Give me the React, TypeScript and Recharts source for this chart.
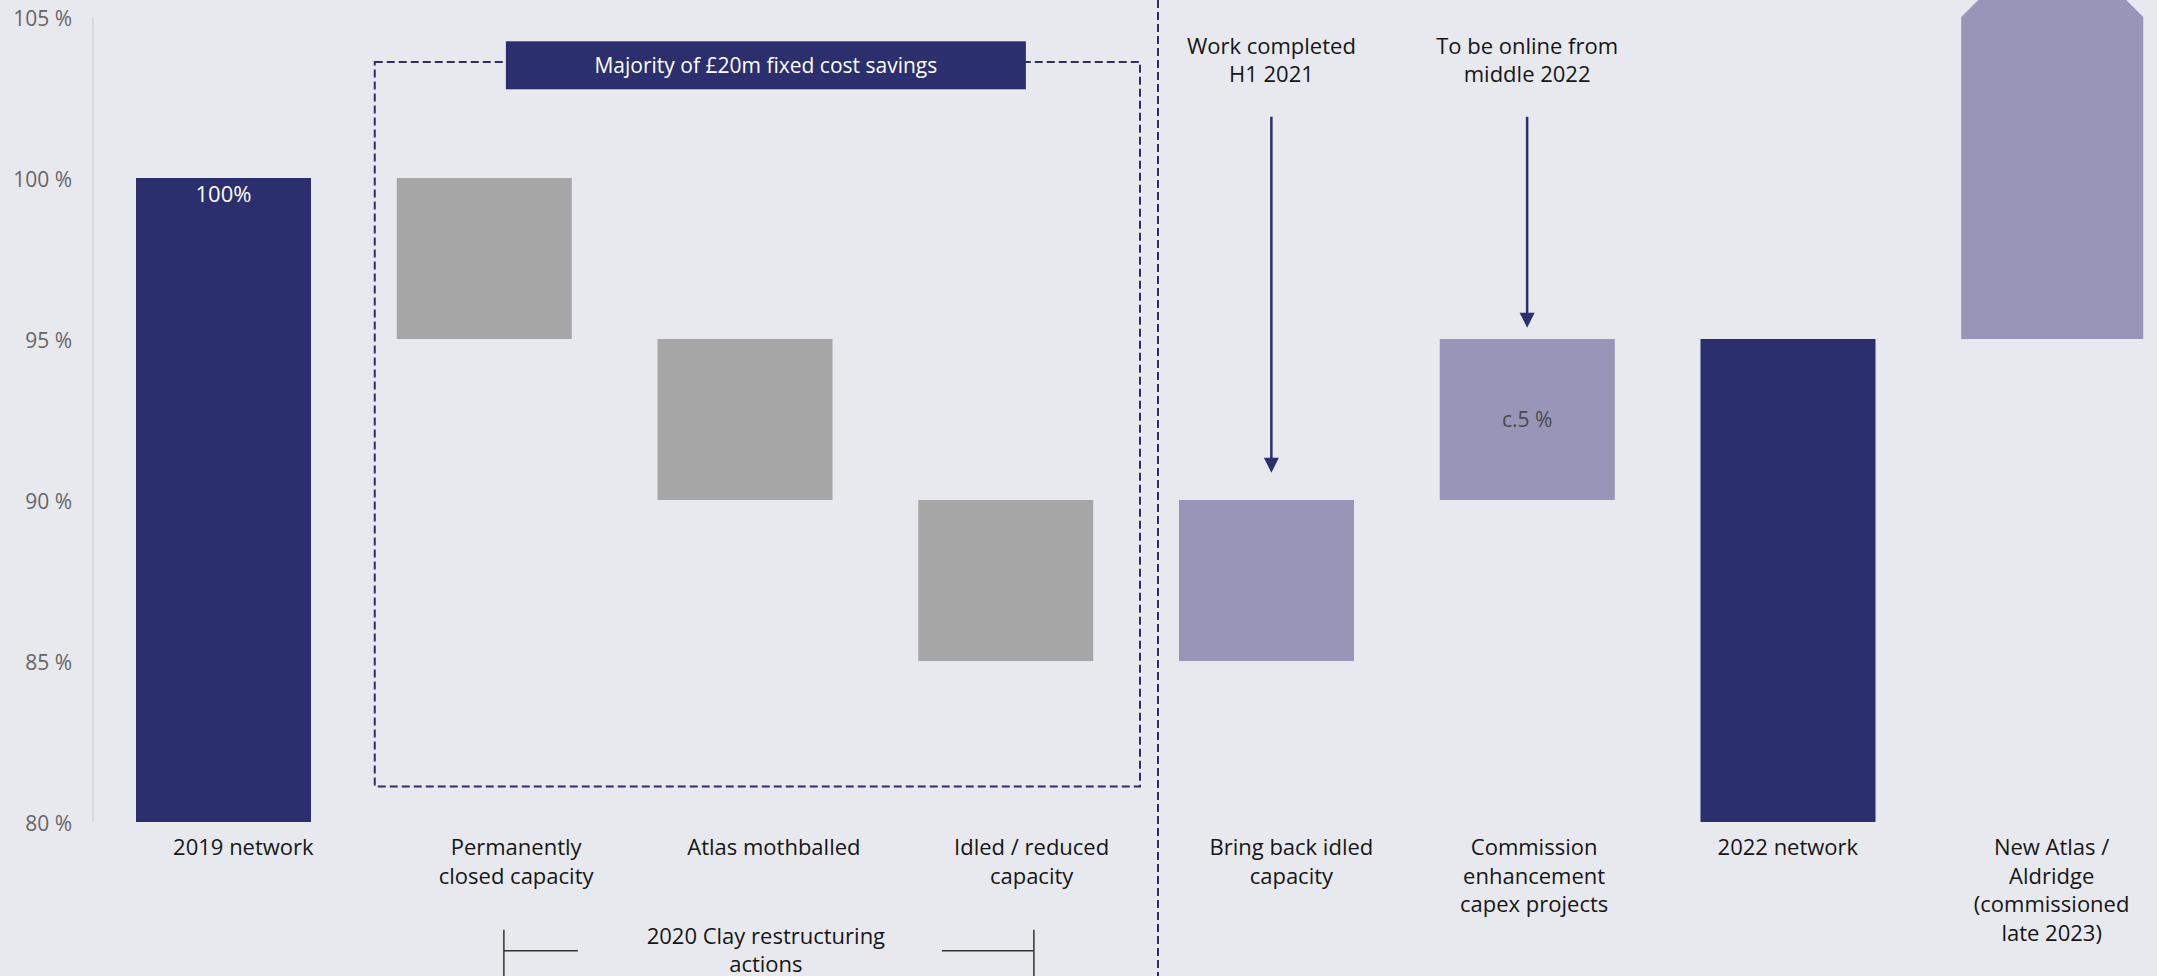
import React from 'react'
import {
  BarChart,
  Bar,
  XAxis,
  YAxis,
  Cell,
  LabelList,
  ReferenceArea,
  ReferenceLine,
  ReferenceDot,
} from 'recharts'

const categories = [
  '2019 network',
  'Permanently closed capacity',
  'Atlas mothballed',
  'Idled / reduced capacity',
  'Bring back idled capacity',
  'Commission enhancement capex projects',
  '2022 network',
  'New Atlas / Aldridge (commissioned late 2023)',
]

// how the slide breaks each category name
const tickLines = [
  ['2019 network'],
  ['Permanently', 'closed capacity'],
  ['Atlas mothballed'],
  ['Idled / reduced', 'capacity'],
  ['Bring back idled', 'capacity'],
  ['Commission', 'enhancement', 'capex projects'],
  ['2022 network'],
  ['New Atlas /', 'Aldridge', '(commissioned', 'late 2023)'],
]

const barLow = [80, 95, 90, 85, 85, 90, 80, 95]
const barHigh = [100, 100, 95, 90, 90, 95, 95, 105]
const barKind = ['total', 'cut', 'cut', 'cut', 'add', 'add', 'total', 'future']
const barLabels = ['100%', '', '', '', '', 'c.5 %', '', '']

const yTicks = [80, 85, 90, 95, 100, 105]

const boxFrom = 103.6
const boxTo = 81.1
const boxTitle = 'Majority of £20m fixed cost savings'
const bracketText = ['2020 Clay restructuring', 'actions']

const arrowAt = [categories[4], categories[5]]
const arrowFrom = [101.9, 101.9]
const arrowTo = [90.85, 95.35]
const arrowNotes = [
  ['Work completed', 'H1 2021'],
  ['To be online from', 'middle 2022'],
]

const W = 2157
const H = 976
const FONT = "'Open Sans', 'Noto Sans', sans-serif"
const NAVY = '#2b2f6e'
const colors: Record<string, string> = {
  total: NAVY,
  cut: '#a6a6a6',
  add: '#9995b8',
  future: '#9995b8',
}
// small horizontal nudges, as things were placed on the slide
const LABEL_NUDGE = [20, 32, 29, 26, 25, 7, 0, 3]
const ARROW_NUDGE = [5, 0]

const data = categories.map((name, i) => ({
  name,
  range: [barLow[i], barHigh[i]],
  label: barLabels[i],
  kind: barKind[i],
}))

const CategoryTick = ({ x, y, payload }: any) => {
  const idx = categories.indexOf(payload.value)
  const lines = tickLines[idx] ?? []
  const cx = x + (LABEL_NUDGE[idx] ?? 0)
  return (
    <text x={cx} y={y} textAnchor="middle" fill="#161616" fontSize={22} fontFamily={FONT}>
      {lines.map((l, i) => (
        <tspan key={i} x={cx} dy={i === 0 ? 25 : 28.5}>
          {l}
        </tspan>
      ))}
    </text>
  )
}

const PercentTick = ({ x, y, payload }: any) => (
  <text x={x} y={y + 9} textAnchor="end" fill="#666666" fontSize={21} fontFamily={FONT}>
    {`${payload.value} %`}
  </text>
)

const WaterfallShape = (props: any) => {
  const { x, y, width, height, fill, payload } = props
  if (payload.kind === 'future') {
    const w = width + 7
    const tip = w / 2
    const pts = [
      [x, y + height],
      [x, y],
      [x + w / 2, y - tip],
      [x + w, y],
      [x + w, y + height],
    ]
    return <polygon points={pts.map((p) => p.join(',')).join(' ')} fill={fill} />
  }
  return <rect x={x} y={y} width={width} height={height} fill={fill} />
}

const BarText = (props: any) => {
  const { x, y, width, height, value, index } = props
  if (!value) return null
  const isTotal = barKind[index] === 'total'
  return (
    <text
      x={x + width / 2}
      y={isTotal ? y + 23.5 : y + height / 2 + 7}
      textAnchor="middle"
      fill={isTotal ? '#ffffff' : '#4a4a4a'}
      fontSize={isTotal ? 22 : 21}
      fontFamily={FONT}
    >
      {value}
    </text>
  )
}

const DashedBox = (p: any) => (
  <rect
    x={p.x + 21}
    y={p.y}
    width={p.width - 17}
    height={p.height}
    fill="none"
    stroke={NAVY}
    strokeWidth={2}
    strokeDasharray="8 4"
  />
)

const TitleBox = ({ cx, cy }: any) => {
  const c = cx + 21
  return (
    <g>
      <rect x={c - 260} y={cy - 24} width={520} height={48} fill={NAVY} />
      <text x={c} y={cy + 7.5} textAnchor="middle" fill="#ffffff" fontSize={21} fontFamily={FONT}>
        {boxTitle}
      </text>
    </g>
  )
}

const Bracket = ({ cx, cy }: any) => {
  const c = cx + 21
  return (
    <g stroke="#333" strokeWidth={1.5}>
      <line x1={c - 262} y1={cy - 21} x2={c - 262} y2={cy + 30} />
      <line x1={c - 262} y1={cy} x2={c - 188} y2={cy} />
      <line x1={c + 176} y1={cy} x2={c + 268} y2={cy} />
      <line x1={c + 268} y1={cy - 21} x2={c + 268} y2={cy + 30} />
      <text x={c} y={cy - 7} textAnchor="middle" fill="#161616" stroke="none" fontSize={22} fontFamily={FONT}>
        <tspan x={c}>{bracketText[0]}</tspan>
        <tspan x={c} dy={28}>
          {bracketText[1]}
        </tspan>
      </text>
    </g>
  )
}

const Separator = (p: any) => (
  <line
    x1={p.x1 + 22}
    x2={p.x1 + 22}
    y1={0}
    y2={H}
    stroke={NAVY}
    strokeWidth={2}
    strokeDasharray="8 4"
  />
)

const makeArrow = (note: string[], nudge: number) => (p: any) => {
  const { y1, y2 } = p
  const x = p.x1 + nudge
  return (
    <g>
      <text x={x} y={y1 - 62.5} textAnchor="middle" fill="#161616" fontSize={22} fontFamily={FONT}>
        <tspan x={x}>{note[0]}</tspan>
        <tspan x={x} dy={27.5}>
          {note[1]}
        </tspan>
      </text>
      <line x1={x} y1={y1} x2={x} y2={y2 - 14} stroke={NAVY} strokeWidth={2.5} />
      <polygon points={`${x - 7.5},${y2 - 15} ${x + 7.5},${y2 - 15} ${x},${y2}`} fill={NAVY} />
    </g>
  )
}

export default function App() {
  return (
    <div style={{ position: 'absolute', left: 0, top: 0, width: W, height: H, background: '#e8e9ef' }}>
      <BarChart width={W} height={H} data={data} margin={{ top: 17, right: -22, bottom: 0, left: 0 }}>
        <XAxis
          dataKey="name"
          height={154}
          axisLine={false}
          tickLine={false}
          interval={0}
          tick={<CategoryTick />}
        />
        <YAxis
          domain={[80, 105]}
          ticks={yTicks}
          width={93}
          tickLine={false}
          axisLine={{ stroke: '#d5d5db', strokeWidth: 1.5 }}
          tickMargin={15}
          tick={<PercentTick />}
        />
        <ReferenceArea
          x1={categories[1]}
          x2={categories[3]}
          y1={boxTo}
          y2={boxFrom}
          ifOverflow="visible"
          shape={DashedBox}
        />
        <ReferenceLine x={categories[4]} position="start" ifOverflow="visible" shape={Separator} />
        <Bar dataKey="range" barSize={175} isAnimationActive={false} shape={WaterfallShape}>
          {data.map((d, i) => (
            <Cell key={i} fill={colors[d.kind]} />
          ))}
          <LabelList dataKey="label" content={<BarText />} />
        </Bar>
        <ReferenceDot x={categories[2]} y={103.5} ifOverflow="visible" shape={TitleBox} />
        <ReferenceDot x={categories[2]} y={76} ifOverflow="visible" shape={Bracket} />
        {arrowAt.map((cat, i) => (
          <ReferenceLine
            key={cat}
            segment={[
              { x: cat, y: arrowFrom[i] },
              { x: cat, y: arrowTo[i] },
            ]}
            ifOverflow="visible"
            shape={makeArrow(arrowNotes[i], ARROW_NUDGE[i])}
          />
        ))}
      </BarChart>
    </div>
  )
}
